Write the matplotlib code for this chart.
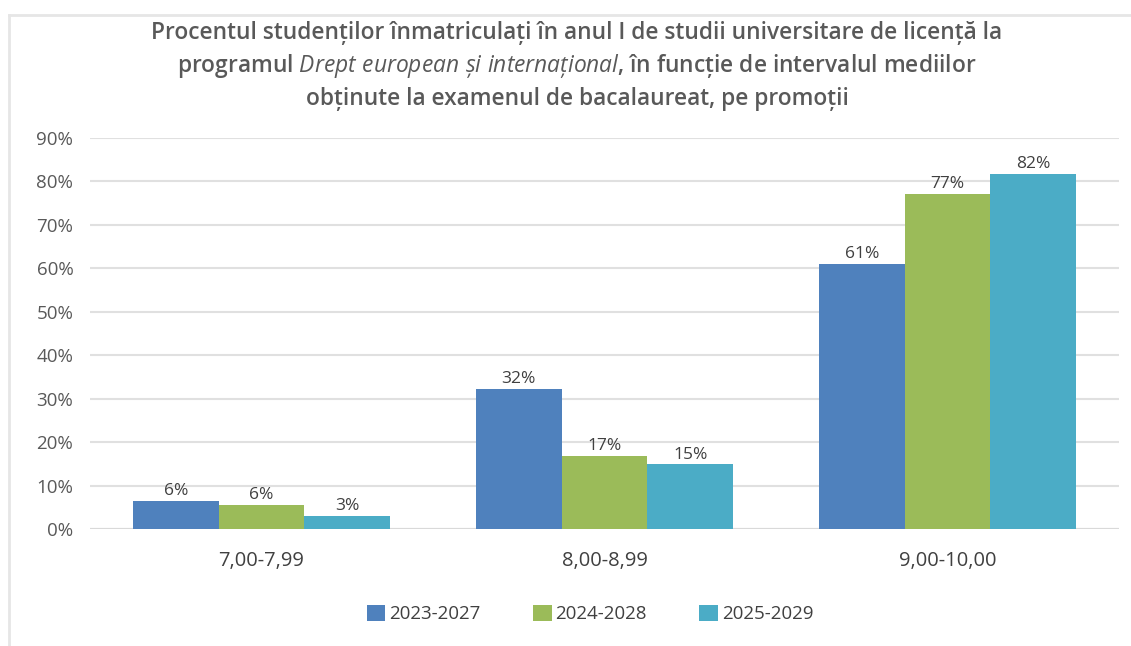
import matplotlib
matplotlib.use("Agg")
import matplotlib.pyplot as plt
import numpy as np
from matplotlib.lines import Line2D
from matplotlib.patches import Patch

categories = ["7,00-7,99", "8,00-8,99", "9,00-10,00"]
series_names = ["2023-2027", "2024-2028", "2025-2029"]
s2023 = [6.4, 32.3, 61.0]
s2024 = [5.6, 16.9, 77.2]
s2025 = [3.0, 14.9, 81.8]
series_values = [s2023, s2024, s2025]
colors = ["#4F81BD", "#9BBB59", "#4BACC6"]
yticks = [0, 10, 20, 30, 40, 50, 60, 70, 80, 90]

plt.rcParams['font.family'] = ['Open Sans', 'DejaVu Sans']
plt.rcParams['mathtext.fontset'] = 'custom'
plt.rcParams['mathtext.it'] = 'Open Sans:italic'
plt.rcParams['mathtext.rm'] = 'Open Sans:bold'
text_color = "#595959"

W, H = 1131, 646
fig = plt.figure(figsize=(W / 100, H / 100), dpi=100)

# axes placement in pixels: left 90, right 1119, top 138 (90%), bottom 529 (0%)
ax = fig.add_axes([90 / W, 1 - 529 / H, (1119 - 90) / W, (529 - 138) / H])

x = np.arange(len(categories))
bw = 0.25
for i, (name, vals, c) in enumerate(zip(series_names, series_values, colors)):
    pos = x + (i - 1) * bw
    bars = ax.bar(pos, vals, width=bw, color=c, label=name, zorder=3)
    for b, v in zip(bars, vals):
        ax.text(b.get_x() + b.get_width() / 2, v + 0.4, f"{round(v)}%",
                ha="center", va="bottom", fontsize=12.5, color="#404040", zorder=4)

ax.set_xlim(-0.5, len(categories) - 0.5)
ax.set_ylim(0, 90)
ax.set_yticks(yticks)
ax.set_yticklabels([f"{t}%" for t in yticks], fontsize=13.5, color=text_color)
ax.set_xticks(x)
ax.set_xticklabels(categories, fontsize=14.5, color="#404040")
ax.tick_params(axis="both", length=0)
ax.tick_params(axis="y", pad=12)
ax.tick_params(axis="x", pad=16)
ax.grid(axis="y", color="#E0E0E0", linewidth=1.5, zorder=0)
for s in ax.spines.values():
    s.set_visible(False)
ax.axhline(0, color="#D9D9D9", linewidth=1.5, zorder=2)

fig.text(577 / W, 1 - 66 / H,
         "Procentul studenților înmatriculați în anul I de studii universitare de licență la\n"
         "programul $\\it{Drept\\ european\\ și\\ internațional}$, în funcție de intervalul mediilor\n"
         "obținute la examenul de bacalaureat, pe promoții",
         ha="center", va="center", fontsize=16.4, fontweight="semibold", color=text_color,
         linespacing=1.38)

handles = [Patch(facecolor=c, label=n) for n, c in zip(series_names, colors)]
fig.legend(handles=handles, loc="center", bbox_to_anchor=(590 / W, 1 - 614 / H),
           ncol=3, frameon=False, fontsize=13.5, handlelength=1.0, handleheight=1.0,
           handletextpad=0.2, columnspacing=2.8, labelcolor="#404040")

# outer frame lines
fig.add_artist(Line2D([9 / W, 1], [1 - 15 / H, 1 - 15 / H], color="#E6E6E6", linewidth=2))
fig.add_artist(Line2D([9 / W, 9 / W], [0, 1 - 15 / H], color="#E6E6E6", linewidth=2))

fig.savefig("out.png", dpi=100, facecolor="white")
